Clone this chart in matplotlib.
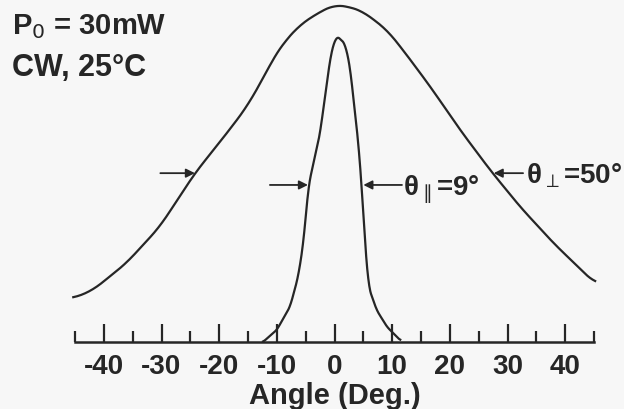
import numpy as np
import matplotlib
matplotlib.use("Agg")
import matplotlib.pyplot as plt

# Far-field pattern (relative intensity, wide peak = 1)
perp_angle = [-45.3, -41.9, -36.1, -30.3, -24.2, -18.7, -15.2, -12.4, -10.6, -8.9,
              -6.0, -2.5, 0.0, 2.5, 5.0, 9.1, 11.9, 16.6, 21.8, 27.0, 32.2, 38.0, 45.2]
perp_int = [0.130, 0.154, 0.234, 0.342, 0.501, 0.619, 0.698, 0.782, 0.842, 0.886,
            0.941, 0.980, 1.000, 0.995, 0.980, 0.926, 0.866, 0.758, 0.629, 0.510,
            0.401, 0.293, 0.174]

par_angle = [-12.4, -10.0, -7.7, -6.3, -5.4, -4.5, -3.7, -2.5, -1.35, -0.5, 0.4,
             1.8, 2.7, 3.3, 4.1, 4.7, 5.3, 5.9, 7.3, 9.1, 11.4]
par_int = [0.0, 0.036, 0.105, 0.194, 0.293, 0.466, 0.525, 0.619, 0.768, 0.866, 0.908,
           0.886, 0.817, 0.718, 0.599, 0.466, 0.293, 0.164, 0.095, 0.045, 0.005]

major_ticks = [-40, -30, -20, -10, 0, 10, 20, 30, 40]
minor_ticks = [-45, -35, -25, -15, -5, 5, 15, 25, 35, 45]

ink = "#262626"
plt.rcParams["font.family"] = ["Liberation Sans", "DejaVu Sans"]
plt.rcParams["mathtext.fontset"] = "dejavusans"

fig = plt.figure(figsize=(6.24, 4.09), dpi=100, facecolor="#f7f7f7")
W, H = 624, 409
ax = fig.add_axes([75 / W, (H - 342) / H, (594 - 75) / W, 337 / H])
ax.set_facecolor("none")


# smooth the read points a little for drawing
def smooth(xs, ys):
    xx = np.linspace(xs[0], xs[-1], 400)
    yy = np.interp(xx, xs, ys)
    k = np.ones(15) / 15
    return xx, np.convolve(np.pad(yy, 7, mode="edge"), k, mode="valid")


x1, y1 = smooth(perp_angle, perp_int)
x2, y2 = smooth(par_angle, par_int)
ax.plot(x1, y1, color=ink, lw=1.6, clip_on=False)
ax.plot(x2, y2, color=ink, lw=1.6, clip_on=False)

ax.set_xlim(-45, 45)
ax.set_ylim(0, 1)
for s in ["left", "right", "top"]:
    ax.spines[s].set_visible(False)
ax.spines["bottom"].set_linewidth(1.8)
ax.spines["bottom"].set_color(ink)
ax.set_yticks([])
ax.set_xticks(major_ticks)
ax.set_xticklabels([str(t) for t in major_ticks],
                   fontsize=20, fontweight="bold", color=ink)
ax.set_xticks(minor_ticks, minor=True)
ax.tick_params(axis="x", which="major", direction="in", length=13, width=1.6,
               color=ink, pad=9)
ax.tick_params(axis="x", which="minor", direction="in", length=8, width=1.6,
               color=ink)
ax.set_xlabel("Angle (Deg.)", fontsize=21, fontweight="bold", color=ink,
              labelpad=1)

arrow = dict(arrowstyle="-|>", color=ink, lw=1.3, mutation_scale=13,
             shrinkA=0, shrinkB=0)
ax.annotate("", xy=(-24.2, 0.501), xytext=(-30.2, 0.501), arrowprops=arrow)
ax.annotate("", xy=(-4.6, 0.466), xytext=(-11.2, 0.466), arrowprops=arrow)
ax.annotate("", xy=(5.0, 0.466), xytext=(11.7, 0.466), arrowprops=arrow)
ax.annotate("", xy=(27.6, 0.501), xytext=(32.7, 0.501), arrowprops=arrow)

ax.text(11.8, 0.436, r"θ$_{\parallel}$=9°", fontsize=20,
        fontweight="bold", color=ink, va="baseline", clip_on=False)
ax.text(33.2, 0.472, r"θ$_{\perp}$=50°", fontsize=20,
        fontweight="bold", color=ink, va="baseline", clip_on=False)

fig.text(12 / W, 1 - 34 / H, r"P$_0$ = 30mW", fontsize=21, fontweight="bold",
         color=ink, va="baseline")
fig.text(12 / W, 1 - 76 / H, "CW, 25°C", fontsize=22, fontweight="bold",
         color=ink, va="baseline")

fig.savefig("out.png", dpi=100, facecolor=fig.get_facecolor())
